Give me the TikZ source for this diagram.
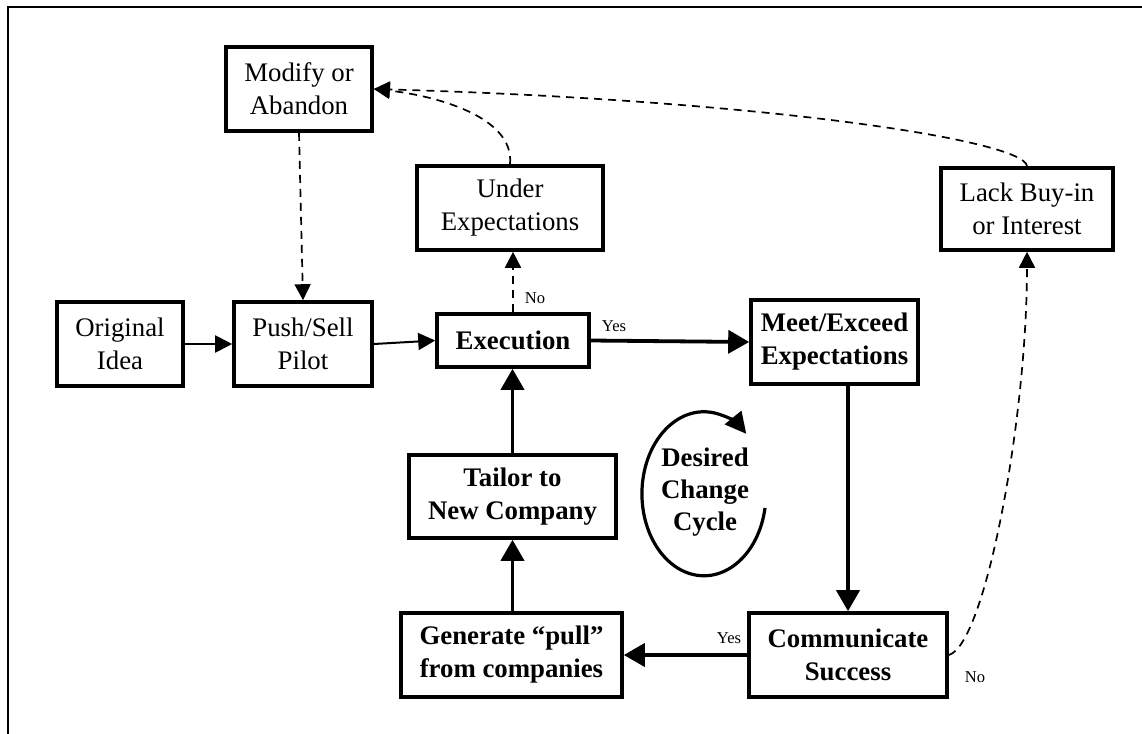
\documentclass[tikz,border=0pt]{standalone}
\usepackage{fontspec}
\setmainfont{Liberation Serif}
\usetikzlibrary{arrows.meta}
\newcommand\boxfont{\fontsize{13.4}{16.5}\selectfont}
\newcommand\lblfont{\fontsize{8.3}{10}\selectfont}
\begin{document}
\begin{tikzpicture}[x=0.5pt,y=-0.5pt,
  box/.style={draw, line width=1.8pt, inner sep=0pt, align=center, font=\boxfont},
  bbox/.style={box, font=\boxfont\bfseries},
  lbl/.style={inner sep=0pt, font=\lblfont},
  thinarr/.style={line width=1pt, -{Triangle[length=8.5pt,width=8.5pt]}},
  thickarr/.style={line width=1.9pt, -{Triangle[length=10.5pt,width=11.5pt]}},
  dasharr/.style={line width=0.85pt, dash pattern=on 4pt off 3pt, -{Triangle[length=8pt,width=8pt]}}
]
\useasboundingbox (0,0) rectangle (1142,734);
% frame
\draw[line width=1pt] (8,734) -- (8,7) -- (1142,7);

% boxes
\node[box, minimum width=73pt, minimum height=42pt] (modify) at (299,89) {Modify or\\Abandon};
\node[box, minimum width=93pt, minimum height=42pt] (under) at (510,208) {Under\\Expectations};
\node[box, minimum width=86pt, minimum height=41pt] (lack) at (1027,209) {Lack Buy-in\\or Interest};
\node[box, minimum width=63pt, minimum height=42pt] (orig) at (120,344) {Original\\Idea};
\node[box, minimum width=69pt, minimum height=42pt] (push) at (303,344) {Push/Sell\\Pilot};
\node[bbox, minimum width=76pt, minimum height=26.5pt] (exec) at (513,340.5) {Execution};
\node[bbox, minimum width=83.5pt, minimum height=42pt] (meet) at (834.5,342) {Meet/Exceed\\Expectations};
\node[bbox, minimum width=103.5pt, minimum height=41.5pt] (tailor) at (512.5,496.5) {Tailor to\\New Company};
\node[bbox, minimum width=110.5pt, minimum height=42pt] (gen) at (511.5,655) {Generate “pull”\\from companies};
\node[bbox, minimum width=99pt, minimum height=42pt] (comm) at (848,655) {Communicate\\Success};

% cycle
\node[inner sep=0pt, align=center, font=\fontsize{13.4}{15.8}\selectfont\bfseries] (cyc) at (705,492) {Desired\\Change\\Cycle};
\coordinate (cycstart) at (765,508);
\draw[line width=1.6pt, -{Triangle[length=10.5pt,width=10.5pt]}] (cycstart)
  arc[start angle=-10, end angle=-313, x radius=31pt, y radius=41pt];

% main flow
\draw[thinarr] (orig) -- (push);
\draw[thinarr] (push.east) -- (exec.west);
\draw[thickarr] (exec.east) -- (meet.west);
\draw[thickarr] (meet.south -| comm.north) -- (comm.north);
\draw[thickarr] (comm.west) -- (gen.east);
\draw[thickarr] (gen.north -| tailor.south) -- (tailor.south);
\draw[thickarr] (tailor.north) -- (tailor.north |- exec.south);

% dashed feedback
\draw[dasharr] (modify.south) -- (push.north);
\draw[dasharr] (exec.north) -- (exec.north |- under.south);
\draw[dasharr] (under.north) .. controls (515,115) and (430,95) .. (modify.east);
\draw[dasharr] (lack.north) .. controls (1025,140) and (760,100) .. (modify.east);
\draw[dasharr] (comm.east) .. controls (985,645) and (1027,420) .. (lack.south);

% labels
\node[lbl] (no1) at (535,298) {No};
\node[lbl] (yes1) at (614,326) {Yes};
\node[lbl] (yes2) at (729,638) {Yes};
\node[lbl] (no2) at (975,677) {No};
\end{tikzpicture}
\end{document}
